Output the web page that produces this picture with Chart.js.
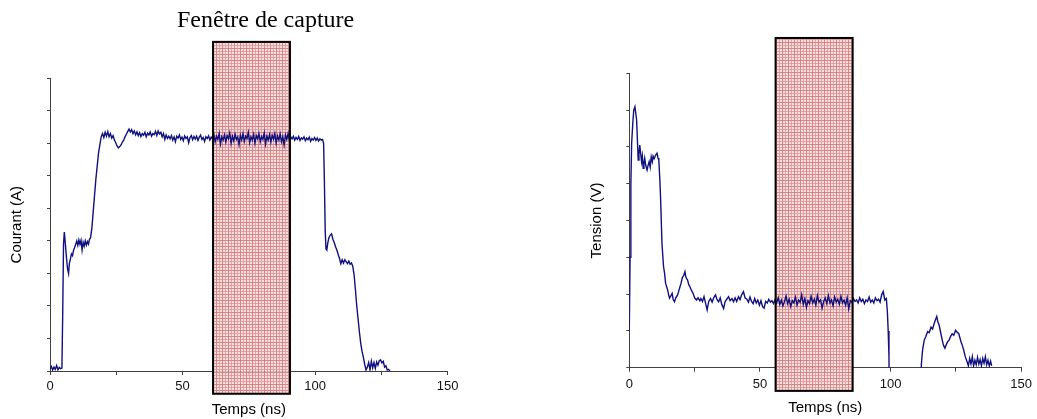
<!DOCTYPE html>
<html lang="fr">
<head>
<meta charset="utf-8">
<title>Fenêtre de capture</title>
<script src="https://cdn.jsdelivr.net/npm/chart.js@4"></script>
<style>
  html, body { margin: 0; padding: 0; background: #fff; }
  #page { position: relative; width: 1037px; height: 419px; overflow: hidden; }
  #courantCanvas { position: absolute; left: 0; top: 0; }
  #tensionCanvas { position: absolute; left: 560px; top: 0; }
  #titre {
    position: absolute; left: 177px; top: 7px;
    font: 24px 'Liberation Serif', 'Times New Roman', serif;
    line-height: 24px; white-space: nowrap; color: #000;
  }
</style>
</head>
<body>
<div id="page">
  <canvas id="courantCanvas" width="470" height="419"></canvas>
  <canvas id="tensionCanvas" width="477" height="419"></canvas>
  <div id="titre">Fenêtre de capture</div>
</div>
<script>
const courantMesure = [
  [0,0.06],[0.5,0.14],[1,0.03],[1.5,0.12],[2,0.05],[2.5,0.17],[3,0.04],[3.5,0.11],[4,0.07],[4.5,0.09],
  [4.8,1.8],[5.1,3.9],[5.4,4.27],[5.8,3.9],[6.2,3.5],[6.6,3.15],[7.0,3.0],[7.3,3.3],[7.7,3.45],[8.1,3.6],
  [8.5,3.55],[8.9,3.72],[9.3,3.8],[9.7,3.9],[10.1,4.0],[10.5,3.86],[10.9,4.03],[11.3,3.9],[11.7,4.02],[12.1,3.72],
  [12.5,3.96],[12.9,3.84],[13.3,4.0],[13.7,3.87],[14.1,3.98],[14.5,3.9],[14.9,4.05],
  [15.3,4.1],[15.8,4.4],[16.3,4.9],[16.8,5.4],[17.3,5.9],[17.8,6.3],[18.3,6.7],[18.8,6.95],[19.3,7.2],
  [19.8,7.3],[20.3,7.18],[20.8,7.34],[21.3,7.22],[21.8,7.36],[22.3,7.2],[22.8,7.3],[23.3,7.16],[23.8,7.24],[24.3,7.1],
  [24.8,7.02],[25.3,6.92],[25.8,6.86],[26.3,6.9],[26.8,6.95],[27.3,7.04],[27.8,7.1],[28.3,7.2],[28.8,7.28],[29.3,7.36],
  [29.8,7.44],[30.3,7.35],[30.8,7.42],[31.3,7.3],[31.8,7.38],[32.3,7.26],[32.8,7.35],[33.3,7.24],[33.8,7.33],[34.3,7.21],
  [34.8,7.3],[35.3,7.25],[35.8,7.34],[36.3,7.2],[36.8,7.31],[37.3,7.26],[37.8,7.35],[38.3,7.22],[38.8,7.3],[39.3,7.27],
  [39.8,7.37],[40.3,7.24],[40.8,7.38],[41.3,7.29],[41.8,7.34],[42.3,7.2],[42.8,7.3],[43.3,7.12],[43.8,7.26],[44.3,7.15],
  [44.8,7.22],[45.3,7.14],[45.8,7.24],[46.3,7.1],[46.8,7.2],[47.3,7.05],[47.8,7.22],[48.3,7.16],[48.8,7.26],[49.3,7.12],
  [49.8,7.19],[50.3,7.08],[50.8,7.23],[51.3,7.15],[51.8,7.2],[52.3,7.02],[52.8,7.18],[53.3,7.24],[53.8,7.11],[54.3,7.21],
  [54.8,7.13],[55.3,7.22],[55.8,7.09],[56.3,7.19],[56.8,7.25],[57.3,7.12],[57.8,7.18],[58.3,7.06],[58.8,7.2],[59.3,7.15],
  [59.8,7.23],[60.3,7.1],[60.8,7.19],[61.3,7.14],[61.8,7.28],[62.3,7.05],[62.8,7.22],[63.3,7.12],[63.8,7.3],[64.3,6.98],
  [64.8,7.2],[65.3,7.1],[65.8,7.26],[66.3,7.04],[66.8,7.24],[67.3,7.14],[67.8,7.32],[68.3,7.0],[68.8,7.22],[69.3,7.08],
  [69.8,7.28],[70.3,7.12],[70.8,7.2],[71.3,6.96],[71.8,7.25],[72.3,7.1],[72.8,7.3],[73.3,7.06],[73.8,7.22],[74.3,7.15],
  [74.8,7.34],[75.3,7.02],[75.8,7.2],[76.3,7.1],[76.8,7.28],[77.3,7.0],[77.8,7.24],[78.3,7.14],[78.8,7.3],[79.3,7.05],
  [79.8,7.21],[80.3,7.12],[80.8,7.32],[81.3,6.98],[81.8,7.22],[82.3,7.1],[82.8,7.27],[83.3,7.04],[83.8,7.25],[84.3,7.13],
  [84.8,7.3],[85.3,7.0],[85.8,7.23],[86.3,7.1],[86.8,7.29],[87.3,7.05],[87.8,7.2],[88.3,6.95],[88.8,7.26],[89.3,7.12],
  [89.8,7.3],[90.3,7.08],[90.8,7.2],[91.3,7.14],[91.8,7.22],[92.3,7.1],[92.8,7.18],[93.3,7.12],[93.8,7.21],[94.3,7.09],
  [94.8,7.17],[95.3,7.13],[95.8,7.2],[96.3,7.08],[96.8,7.16],[97.3,7.11],[97.8,7.19],[98.3,7.06],[98.8,7.15],[99.3,7.1],
  [99.8,7.18],[100.3,7.09],[100.8,7.16],[101.3,7.07],[101.8,7.14],[102.3,7.1],[102.8,7.12],
  [103.2,7.0],[103.5,5.8],[103.8,4.3],[104.1,3.75],[104.4,3.72],[104.8,3.95],[105.2,4.1],[105.7,4.18],[106.2,4.22],[106.7,4.05],
  [107.2,3.95],[107.7,3.82],[108.2,3.72],[108.7,3.58],[109.2,3.46],[109.7,3.3],[110.2,3.42],[110.7,3.32],[111.2,3.42],[111.7,3.36],
  [112.2,3.3],[112.7,3.38],[113.2,3.28],[113.7,3.32],[114.2,3.22],[114.7,2.95],[115.2,2.5],[115.7,2.0],[116.2,1.6],[116.7,1.2],
  [117.2,0.85],[117.7,0.6],[118.2,0.42],[118.7,0.2],[119.2,0.03],[119.7,0.12],[120.2,0.26],[120.7,0.04],[121.2,0.3],[121.7,0.1],
  [122.2,0.26],[122.7,0.08],[123.2,0.28],[123.7,0.18],[124.2,0.32],[124.7,0.34],[125.2,0.25],[125.7,0.3],[126.2,0.12],[126.7,0.16],
  [127.2,0.03],[127.7,0.05],[128.2,0.0]
];

const tensionMesure = [
  [0,1.0],[0.3,3.0],[0.6,5.0],[0.9,6.1],[1.3,6.6],[1.7,7.0],[2.15,7.09],[2.5,6.9],[2.8,6.73],[3.1,6.2],
  [3.4,5.64],[3.7,5.8],[4.0,6.05],[4.3,5.85],[4.7,5.6],[5.0,5.75],[5.3,5.42],[5.6,5.55],[5.9,5.69],[6.3,5.5],
  [6.8,5.37],[7.2,5.5],[7.6,5.6],[8.0,5.45],[8.4,5.73],[8.8,5.6],[9.1,5.75],[9.5,5.68],[10.1,5.78],[10.6,5.83],
  [11.0,5.7],[11.3,5.64],[11.7,5.1],[12.0,4.56],[12.5,3.38],[13.1,2.75],[13.5,2.57],[13.9,2.29],[14.3,2.2],[14.7,2.11],
  [15.0,2.0],[15.4,1.89],[15.9,1.95],[16.4,2.02],[16.8,1.85],[17.3,1.79],[17.8,1.9],[18.5,1.98],[19.0,2.1],[19.4,2.2],
  [19.8,2.29],[20.3,2.45],[20.8,2.5],[21.3,2.61],[21.7,2.45],[22.3,2.38],[22.8,2.25],[23.2,2.2],[23.8,2.1],[24.4,2.02],
  [25.0,1.9],[25.7,1.84],[26.3,1.9],[27.0,1.82],[27.4,1.88],[28.0,1.8],[28.6,1.93],[29.2,1.75],[29.8,1.57],[30.4,1.8],
  [31.1,1.88],[31.7,1.78],[32.3,1.9],[33.0,1.98],[33.6,1.85],[34.2,1.79],[34.8,1.9],[35.4,1.72],[36.1,1.61],[36.7,1.8],
  [37.3,1.86],[38.0,1.93],[38.6,1.82],[39.3,1.88],[39.9,1.79],[40.5,1.9],[41.1,1.8],[41.8,1.93],[42.4,1.85],[43.0,1.98],
  [43.7,2.07],[44.3,1.9],
  [45.0,1.86],[45.6,1.78],[46.2,1.92],[46.8,1.8],[47.4,1.74],[48.0,1.88],[48.6,1.76],[49.2,1.84],[49.8,1.7],[50.4,1.82],
  [51.0,1.66],[51.6,1.62],[52.2,1.8],[52.8,1.76],[53.4,1.86],[54.0,1.78],[54.6,1.82],[55.2,1.74],[55.8,1.85],[56.4,1.76],
  [57.0,1.9],[57.6,1.72],[58.2,1.84],[58.8,1.68],[59.4,1.8],[60.0,1.95],[60.6,1.74],[61.2,1.86],[61.8,1.66],[62.4,1.82],
  [63.0,1.76],[63.6,1.92],[64.2,1.7],[64.8,1.84],[65.4,1.78],[66.0,1.98],[66.6,1.72],[67.2,1.88],[67.8,1.64],[68.4,1.82],
  [69.0,1.74],[69.6,1.94],[70.2,1.76],[70.8,1.86],[71.4,1.7],[72.0,1.96],[72.6,1.78],[73.2,1.84],[73.8,1.62],[74.4,1.8],
  [75.0,1.9],[75.6,1.74],[76.2,1.96],[76.8,1.76],[77.4,1.84],[78.0,1.68],[78.6,1.92],[79.2,1.78],[79.8,1.86],[80.4,1.72],
  [81.0,1.94],[81.6,1.76],[82.2,1.84],[82.8,1.7],[83.4,1.9],[84.0,1.6],[84.6,1.82],[85.2,1.78],[85.8,1.88],[86.4,1.8],
  [87.0,1.84],[87.6,1.76],[88.2,1.9],[88.8,1.8],[89.4,1.86],[90.0,1.74],[90.6,1.84],[91.2,1.8],[91.8,1.92],[92.4,1.78],
  [93.0,1.84],[93.6,1.76],[94.2,1.9],[94.8,1.82],[95.4,1.86],[96.0,1.78],[96.6,1.98],[97.2,2.07],[97.8,1.84],[98.4,1.88],
  [98.8,1.5],[99.1,1.0],[99.4,0.3],[99.8,-3],[111.6,-3],
  [111.8,0.1],[112.3,0.5],[112.9,0.75],[113.5,0.85],[114.2,0.98],[114.8,0.95],[115.5,1.1],[116.1,1.05],[116.7,1.2],[117.2,1.3],
  [117.7,1.39],[118.1,1.25],[118.6,1.16],[119.2,0.95],[119.8,0.75],[120.3,0.6],[120.8,0.53],[121.3,0.62],[121.8,0.7],[122.4,0.75],
  [123.0,0.85],[123.6,0.92],[124.2,0.88],[124.9,1.02],[125.5,0.96],[126.1,0.93],[126.6,0.8],[127.0,0.7],[127.5,0.6],[128.0,0.48],
  [128.6,0.3],[129.3,0.16],[129.8,0.05],[130.3,0.25],[130.8,0.1],[131.3,0.3],[131.8,0.05],[132.3,0.2],[132.8,0.08],[133.3,0.28],
  [133.8,0.1],[134.3,0.22],[134.8,0.05],[135.3,0.25],[135.8,0.12],[136.3,0.3],[136.8,0.08],[137.3,0.2],[137.8,0.05],[138.3,0.18],
  [138.7,0.05]
];

// Fenêtre de capture (en ns) et étendue verticale du cadre (unités de l'axe)
const fenetreCourant = { debut: 61.5, fin: 90.5, bas: -0.7, haut: 10.12 };
const fenetreTension = { debut: 56.0, fin: 85.5, bas: -0.63, haut: 8.96 };

const graduationsTemps = [0, 50, 100, 150];

const couleurTrace = '#10107e';
const couleurAxe = '#404040';
const policeSans = "'Liberation Sans', Arial, sans-serif";

// Motif quadrillé rouge du cadre
function motifQuadrille(ctx) {
  const c = document.createElement('canvas');
  c.width = 6;
  c.height = 6;
  const g = c.getContext('2d');
  g.fillStyle = '#f5dada';
  g.fillRect(0, 0, 6, 6);
  g.fillStyle = 'rgba(200,95,95,0.8)';
  g.fillRect(0, 0, 1, 6);
  g.fillRect(0, 0, 6, 1);
  g.fillStyle = 'rgba(215,125,125,0.7)';
  g.fillRect(3, 0, 1, 6);
  g.fillRect(0, 3, 6, 1);
  return ctx.createPattern(c, 'repeat');
}

function cadreFenetre(chart, f) {
  const x = chart.scales.x, y = chart.scales.y;
  const gauche = x.getPixelForValue(f.debut);
  const droite = x.getPixelForValue(f.fin);
  const haut = y.getPixelForValue(f.haut);
  const bas = y.getPixelForValue(f.bas);
  return { gauche, haut, largeur: droite - gauche, hauteur: bas - haut };
}

const fenetrePlugin = {
  id: 'fenetre',
  beforeDatasetsDraw(chart, args, opts) {
    const r = cadreFenetre(chart, opts);
    const ctx = chart.ctx;
    ctx.save();
    ctx.globalAlpha = 0.88;
    ctx.fillStyle = motifQuadrille(ctx);
    ctx.fillRect(r.gauche, r.haut, r.largeur, r.hauteur);
    ctx.restore();
  },
  afterDatasetsDraw(chart, args, opts) {
    const r = cadreFenetre(chart, opts);
    const ctx = chart.ctx;
    ctx.save();
    ctx.strokeStyle = '#000';
    ctx.lineWidth = 2;
    ctx.strokeRect(r.gauche, r.haut, r.largeur, r.hauteur);
    ctx.restore();
  }
};

function creerGraphe(idCanvas, mesures, yMax, titreY, fenetre, mise) {
  return new Chart(document.getElementById(idCanvas), {
    type: 'line',
    data: {
      datasets: [{
        data: mesures.map(p => ({ x: p[0], y: p[1] })),
        borderColor: couleurTrace,
        borderWidth: 1.4,
        pointRadius: 0,
        tension: 0
      }]
    },
    options: {
      responsive: false,
      animation: false,
      events: [],
      layout: { padding: mise.padding },
      plugins: {
        legend: { display: false },
        tooltip: { enabled: false },
        fenetre: fenetre
      },
      scales: {
        x: {
          type: 'linear',
          min: 0,
          max: 150,
          afterFit: s => { s.height = mise.hauteurX; },
          border: { display: true, color: couleurAxe, width: 1 },
          grid: { drawOnChartArea: false, drawTicks: true, tickLength: 4, color: couleurAxe },
          ticks: {
            stepSize: 25,
            autoSkip: false,
            maxRotation: 0,
            padding: mise.padTicks,
            color: '#111',
            font: { family: policeSans, size: 13 },
            callback: v => graduationsTemps.includes(v) ? String(v) : ''
          },
          title: {
            display: true,
            text: 'Temps (ns)',
            color: '#000',
            font: { family: policeSans, size: 15 },
            padding: { top: 0, bottom: mise.padTitreX }
          }
        },
        y: {
          min: 0,
          max: yMax,
          afterFit: s => { s.width = mise.largeurY; },
          border: { display: true, color: couleurAxe, width: 1 },
          grid: { drawOnChartArea: false, drawTicks: true, tickLength: 3, color: couleurAxe },
          ticks: { display: false, stepSize: 1 },
          title: {
            display: true,
            text: titreY,
            color: '#000',
            font: { family: policeSans, size: 15 },
            padding: { top: mise.padTitreY, bottom: 0 }
          }
        }
      }
    },
    plugins: [fenetrePlugin]
  });
}

creerGraphe('courantCanvas', courantMesure, 9, 'Courant (A)', fenetreCourant, {
  padding: { top: 78.3, right: 22.3, bottom: 0, left: 0 },
  hauteurX: 48, largeurY: 50, padTicks: 4, padTitreX: 0, padTitreY: 8
});

creerGraphe('tensionCanvas', tensionMesure, 8, 'Tension (V)', fenetreTension, {
  padding: { top: 73.3, right: 10.3, bottom: 0, left: 0 },
  hauteurX: 51.3, largeurY: 69.3, padTicks: 5, padTitreX: 2, padTitreY: 28
});
</script>
</body>
</html>
